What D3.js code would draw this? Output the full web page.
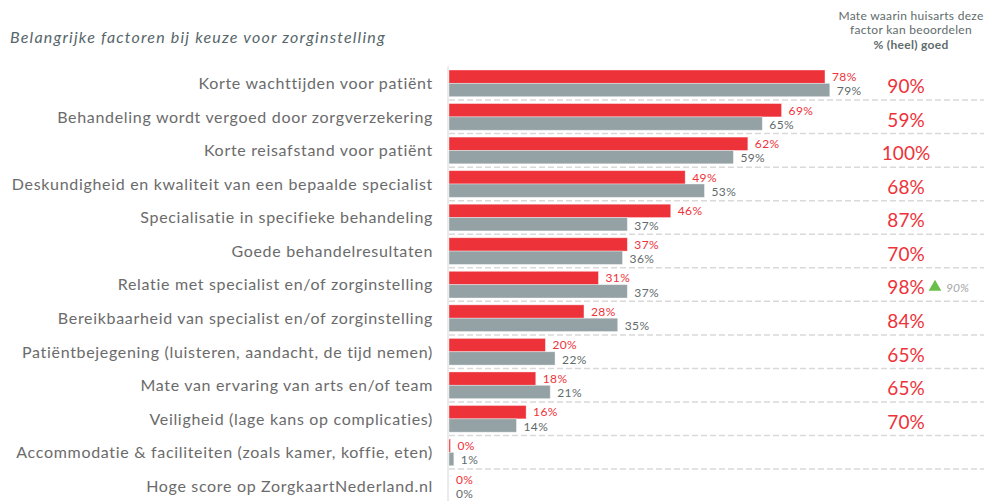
<!DOCTYPE html>
<html>
<head>
<meta charset="utf-8">
<script src="https://cdn.jsdelivr.net/npm/d3@7"></script>
<style>
    body { margin: 0; background: #fff; }
    svg { font-family: Lato, "Open Sans", sans-serif; }
</style>
</head>
<body>
<div id="chart"></div>
<script>
// Belangrijke factoren bij keuze voor zorginstelling

const categories = [
    "Korte wachttijden voor patiënt",
    "Behandeling wordt vergoed door zorgverzekering",
    "Korte reisafstand voor patiënt",
    "Deskundigheid en kwaliteit van een bepaalde specialist",
    "Specialisatie in specifieke behandeling",
    "Goede behandelresultaten",
    "Relatie met specialist en/of zorginstelling",
    "Bereikbaarheid van specialist en/of zorginstelling",
    "Patiëntbejegening (luisteren, aandacht, de tijd nemen)",
    "Mate van ervaring van arts en/of team",
    "Veiligheid (lage kans op complicaties)",
    "Accommodatie & faciliteiten (zoals kamer, koffie, eten)",
    "Hoge score op ZorgkaartNederland.nl"
];

// red bars (first series) and grey bars (second series), in %
const redValues  = [78, 69, 62, 49, 46, 37, 31, 28, 20, 18, 16, 0.3, 0];
const greyValues = [79, 65, 59, 53, 37, 36, 37, 35, 22, 21, 14, 1, 0];

// right column: mate waarin huisarts deze factor kan beoordelen
const judgeValues = [90, 59, 100, 68, 87, 70, 98, 84, 65, 65, 70, null, null];

// earlier measurement shown next to the arrow
const previousValue = {row: 6, value: 90};

const title = "Belangrijke factoren bij keuze voor zorginstelling";
const headerLines = ["Mate waarin huisarts deze", "factor kan beoordelen", "% (heel) goed"];

const red = "#ee3239";
const grey = "#95a2a5";

const width = 984, height = 501;

const svg = d3.select("#chart").append("svg")
    .attr("width", width)
    .attr("height", height);

const data = categories.map((c, i) => ({
    category: c,
    red: redValues[i],
    grey: greyValues[i],
    judge: judgeValues[i]
}));

// scales
const x = d3.scaleLinear().domain([0, 100]).range([449, 931]);
const y = d3.scaleBand().domain(categories).range([66.5, 66.5 + 13 * 33.55]);
const ySeries = d3.scaleBand().domain(["red", "grey"]).range([3.5, 30.2]);

// title
svg.append("text")
    .text(title)
    .attr("x", 10)
    .attr("y", 43)
    .attr("font-size", 16)
    .attr("letter-spacing", 1.2)
    .attr("font-style", "italic")
    .attr("fill", "#56666a");

// right header
svg.append("g").selectAll("text").data(headerLines)
    .enter().append("text")
    .text(d => d)
    .attr("x", 911)
    .attr("y", (d, i) => 20 + i * 14.3)
    .attr("text-anchor", "middle")
    .attr("font-size", 12)
    .attr("letter-spacing", 0.3)
    .attr("font-weight", (d, i) => i == 2 ? "bold" : "normal")
    .attr("fill", "#5f6c6c");

// dashed separators between rows
svg.append("g").selectAll("line").data(categories.slice(0, -1))
    .enter().append("line")
    .attr("x1", x(0))
    .attr("x2", width)
    .attr("y1", d => y(d) + y.bandwidth())
    .attr("y2", d => y(d) + y.bandwidth())
    .attr("stroke", "#d9d9d9")
    .attr("stroke-width", 1.5)
    .attr("stroke-dasharray", "6,3");

// vertical axis line
svg.append("line")
    .attr("x1", 448).attr("x2", 448)
    .attr("y1", y.range()[0]).attr("y2", height)
    .attr("stroke", "#d6d6d6")
    .attr("stroke-width", 1);

// category labels
svg.append("g").selectAll("text").data(data)
    .enter().append("text")
    .text(d => d.category)
    .attr("x", 433)
    .attr("y", d => y(d.category) + ySeries("grey"))
    .attr("dy", "0.36em")
    .attr("text-anchor", "end")
    .attr("font-size", 16)
    .attr("letter-spacing", 0.68)
    .attr("fill", "#6b6b6b");

// bars
const rows = svg.append("g").selectAll(".row").data(data)
    .enter().append("g")
    .attr("class", "row")
    .attr("transform", d => "translate(0," + y(d.category) + ")");

["red", "grey"].forEach(function(key){
    const color = key == "red" ? red : grey;

    rows.filter(d => d[key] > 0).append("rect")
        .attr("x", x(0))
        .attr("y", ySeries(key))
        .attr("width", d => x(d[key]) - x(0))
        .attr("height", ySeries.bandwidth())
        .attr("fill", color)
        .attr("stroke", "rgba(255,255,255,0.45)")
        .attr("stroke-width", 0.8);

    rows.append("text")
        .text(d => Math.round(d[key]) + "%")
        .attr("x", d => x(d[key]) + 7)
        .attr("y", ySeries(key) + ySeries.bandwidth() / 2 + (key == "red" ? 0 : 1))
        .attr("dy", "0.36em")
        .attr("font-size", 12)
        .attr("letter-spacing", 0.4)
        .attr("fill", key == "red" ? red : "#5f6b6b");
});

// right column values
svg.append("g").selectAll("text").data(data.filter(d => d.judge != null))
    .enter().append("text")
    .text(d => d.judge + "%")
    .attr("x", 906)
    .attr("y", d => y(d.category) + y.bandwidth() / 2 + 3)
    .attr("dy", "0.36em")
    .attr("text-anchor", "middle")
    .attr("font-size", 19)
    .attr("fill", red);

// up arrow with previous value
const prevY = y(categories[previousValue.row]) + y.bandwidth() / 2 + 3;
svg.append("path")
    .attr("d", d3.symbol().type(d3.symbolTriangle).size(70)())
    .attr("transform", "translate(935," + (prevY - 0.5) + ")")
    .attr("fill", "#6abf4b");

svg.append("text")
    .text(previousValue.value + "%")
    .attr("x", 946)
    .attr("y", prevY)
    .attr("dy", "0.36em")
    .attr("font-size", 12)
    .attr("font-style", "italic")
    .attr("fill", "#a6a6a6");
</script>
</body>
</html>
